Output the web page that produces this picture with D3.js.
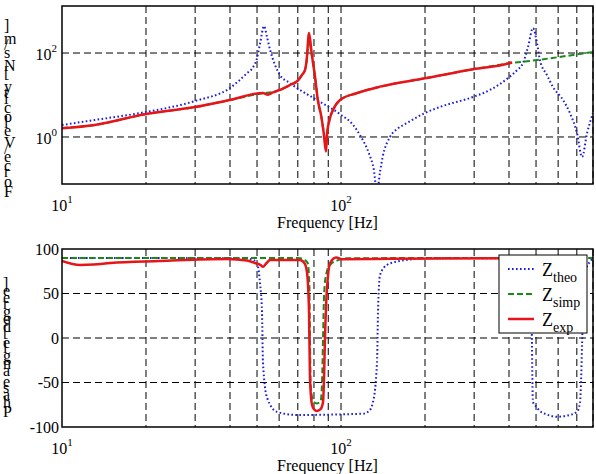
<!DOCTYPE html>
<html>
<head>
<meta charset="utf-8">
<script src="https://cdn.jsdelivr.net/npm/d3@7"></script>
<style>
  body { margin: 0; background: #fff; }
  svg, svg text { font-family: "Liberation Serif", "Times New Roman", Tinos, "DejaVu Serif", serif; }
  .grid line { stroke: #000; stroke-width: 1; stroke-dasharray: 7,4; }
  .frame { fill: none; stroke: #000; stroke-width: 1.5; }
</style>
</head>
<body>
<svg id="chart" width="596" height="474"></svg>
<script>
// tick / grid values
const freqGrid = [20, 30, 40, 50, 60, 70, 80, 90, 100, 200, 300, 400, 500, 600, 700, 800];
const freqLabelExp = [1, 2];
const magGrid = [1, 100];
const magLabelExp = [0, 2];
const phaseGrid = [50, 0, -50];
const phaseLabels = [100, 50, 0, -50, -100];
const legendNames = ["theo", "simp", "exp"];

// |Z| = Force/Velocity  [frequency Hz, Ns/m]
const theoMag = [[10,1.93],[13.1,2.54],[20,3.94],[30,7.2],[40,14.7],[46,33],[48.5,47],[50,75],[51.3,173],[53,439],
  [54.3,240],[55.7,118],[58,52],[60.4,30],[65.6,19.3],[69.5,14.7],[82,7.6],[99.2,3.5],[110,2.0],[117,1.1],[126,0.4],
  [131,0.17],[134.6,0.05],[138,0.15],[141,0.334],[149.8,1.0],[160,1.6],[172.4,2.15],[200,3.73],[226,5.18],[297,8.96],
  [342,13.2],[397,25.4],[428,39.4],[449,57.8],[468,139],[487.6,394],[504,173],[516,68],[547,29.9],[575,15.5],[625,7.6],
  [661,3.73],[701,1.245],[731,0.334],[762,1.245],[800,3.73]];
const simpMag = [[10,1.64],[13.1,1.93],[20,3.53],[30,5.18],[40,7.6],[52.5,11.0],[57,11.8],[60.4,13.2],[65.6,17.3],[70,22],
  [72.4,29.9],[74.3,40],[75.3,65],[76.7,200],[78.5,90],[80.7,27],[82.6,7.6],[85,3.05],[86.7,1.3],[88.2,0.6],[89.3,1.3],
  [91.3,2.83],[93.6,4.4],[99.2,7.6],[113.6,11],[138,15.8],[200,25],[297,41],[403,57],[504,68],[678,89.6],[800,105.6]];
const expMag = [[10,1.61],[13.1,1.93],[20,3.53],[30,5.18],[40,7.6],[52.5,11.2],[54.7,10.2],[57,11.5],[60.4,13.2],[65.6,17.3],
  [70,22],[72.4,29.9],[74.3,39.4],[75.3,68],[76.8,299],[78.5,98],[80.7,27],[82.6,7.6],[85,3.05],[86.7,1.245],[88.3,0.45],
  [89.2,1.245],[91.3,2.83],[93.6,4.4],[99.2,7.6],[113.6,11],[138,15.8],[200,25],[297,41],[403,57.8],[410,61]];

// phase  [frequency Hz, degree]
const theoPhase = [[10,90],[45,89.5],[49,87],[50.4,80],[51.3,60],[52.1,29],[52.5,-27],[54.3,-67],[59,-83],[69.5,-86.5],
  [120,-85],[126,-82],[130.2,-72],[134.6,-27],[135.7,29],[138,71],[146,82],[162.7,86.5],[213.6,90],[460,89],[475,70],
  [483,3],[485,-45],[487.6,-72],[500,-77],[516.5,-82],[547,-86],[594,-88.5],[650,-87],[701,-83],[719,-72],[731,-8],
  [740,55],[760,80],[780,85.4],[800,90]];
const simpPhase = [[10,90],[70,90],[74,88],[76,84],[77,60],[77.4,0],[77.9,-55],[79.5,-71],[82,-73.5],[84.5,-71],[85.5,-50],
  [86.2,0],[87,50],[88.5,72],[91.3,82],[96.7,87],[105,89.5],[300,90],[800,90]];
const expPhase = [[10,86.5],[11.6,82],[13,82.5],[14.9,84.3],[22.4,86.5],[39,88.8],[46,87],[49.2,84.3],[51.5,82],[52.5,80],
  [54,84],[55.7,87.6],[71.3,87.6],[74,84],[75.5,74],[76.8,29],[77.4,-45],[78.7,-75],[80,-80],[82,-82],[84.5,-80],[86.2,-72],
  [87,-40],[87.6,0],[88.5,40],[89.8,70],[91.3,84],[96,90.5],[100.8,88.5],[150,89],[410,89.5]];

const styles = {
  theo: { color: "#1c1ce0", width: 2, dash: "1.6,2.4" },
  simp: { color: "#188a18", width: 2, dash: "6,3" },
  exp:  { color: "#e8141a", width: 2.5, dash: null }
};

const serif = '"Liberation Serif", "Times New Roman", Tinos, "DejaVu Serif", serif';
const svg = d3.select("#chart").style('font-family', serif);
const left = 62, right = 593;

const x = d3.scaleLog().domain([10, 800]).range([left, right]);
const yMag = d3.scaleLog().domain([Math.pow(10, -1.12), Math.pow(10, 3.12)]).range([184, 6]);
const yPh = d3.scaleLinear().domain([-100, 100]).range([427, 249]);

function panel(id, y, yGrid, series) {
    let [y1, y0] = y.range();
    let g = svg.append('g');

    svg.append('clipPath').attr('id', id)
        .append('rect')
        .attr('x', left).attr('y', y0)
        .attr('width', right - left).attr('height', y1 - y0);

    let grid = g.append('g').attr('class', 'grid');
    grid.selectAll('line.v')
        .data(freqGrid)
        .enter().append('line')
        .attr('x1', d => x(d)).attr('x2', d => x(d))
        .attr('y1', y0).attr('y2', y1);
    grid.selectAll('line.h')
        .data(yGrid)
        .enter().append('line')
        .attr('x1', left).attr('x2', right)
        .attr('y1', d => y(d)).attr('y2', d => y(d));

    let lines = g.append('g').attr('clip-path', `url(#${id})`);
    series.forEach(s => {
        let st = styles[s.name];
        let line = d3.line()
            .x(d => x(d[0]))
            .y(d => y(d[1]))
            .curve(d3.curveMonotoneX);
        lines.append('path')
            .datum(s.data)
            .attr('d', line)
            .attr('fill', 'none')
            .attr('stroke', st.color)
            .attr('stroke-width', st.width)
            .attr('stroke-dasharray', st.dash);
    });

    g.append('rect')
        .attr('class', 'frame')
        .attr('x', left).attr('y', y0)
        .attr('width', right - left).attr('height', y1 - y0);

    // x tick labels 10^n
    freqLabelExp.forEach(e => {
        let t = g.append('text')
            .attr('x', x(Math.pow(10, e)))
            .attr('y', y1 + 27)
            .attr('text-anchor', 'middle')
            .style('font-family', serif)
            .style('font-size', '16px');
        t.append('tspan').text('10');
        t.append('tspan').attr('dy', -8).style('font-size', '11px').text(e);
    });

    g.append('text')
        .attr('x', (left + right) / 2)
        .attr('y', y1 + 44)
        .attr('text-anchor', 'middle')
        .style('font-family', serif)
        .style('font-size', '16px')
        .text('Frequency [Hz]');

    return g;
}

let gTop = panel('clipTop', yMag, magGrid, [
    { name: 'theo', data: theoMag },
    { name: 'simp', data: simpMag },
    { name: 'exp', data: expMag }
]);

magLabelExp.forEach(e => {
    let t = gTop.append('text')
        .attr('x', 57)
        .attr('y', yMag(Math.pow(10, e)) + 7)
        .attr('text-anchor', 'end')
        .style('font-family', serif)
        .style('font-size', '16px');
    t.append('tspan').text('10');
    t.append('tspan').attr('dy', -8).style('font-size', '11px').text(e);
});

let gBot = panel('clipBot', yPh, phaseGrid, [
    { name: 'theo', data: theoPhase },
    { name: 'simp', data: simpPhase },
    { name: 'exp', data: expPhase }
]);

gBot.selectAll('text.ph')
    .data(phaseLabels)
    .enter().append('text')
    .attr('x', 59)
    .attr('y', d => yPh(d) + 5.5)
    .attr('text-anchor', 'end')
    .style('font-family', serif)
    .style('font-size', '16px')
    .text(d => d);

// y labels: upright glyphs stacked bottom to top
svg.append('text')
    .attr('transform', 'translate(4,197) rotate(-90)')
    .attr('rotate', 90)
    .style('font-family', serif)
    .style('font-size', '16px')
    .style('letter-spacing', '1.4px')
    .text('Force/Velocity [Ns/m]');

svg.append('text')
    .attr('transform', 'translate(3,417) rotate(-90)')
    .attr('rotate', 90)
    .style('font-family', serif)
    .style('font-size', '16px')
    .text('Phase angle [degree]');

// legend
let legend = svg.append('g');
legend.append('rect')
    .attr('x', 499).attr('y', 255)
    .attr('width', 88).attr('height', 78)
    .attr('fill', '#fff').attr('stroke', '#000').attr('stroke-width', 1);

legendNames.forEach((n, i) => {
    let ly = 269 + i * 25;
    let st = styles[n];
    legend.append('line')
        .attr('x1', 508).attr('x2', 534)
        .attr('y1', ly).attr('y2', ly)
        .attr('stroke', st.color)
        .attr('stroke-width', st.width)
        .attr('stroke-dasharray', st.dash);
    let t = legend.append('text')
        .attr('x', 542).attr('y', ly + 7)
        .style('font-family', serif)
        .style('font-size', '18px');
    t.append('tspan').text('Z');
    t.append('tspan').attr('dy', 6).style('font-size', '14px').text(n);
});
</script>
</body>
</html>
